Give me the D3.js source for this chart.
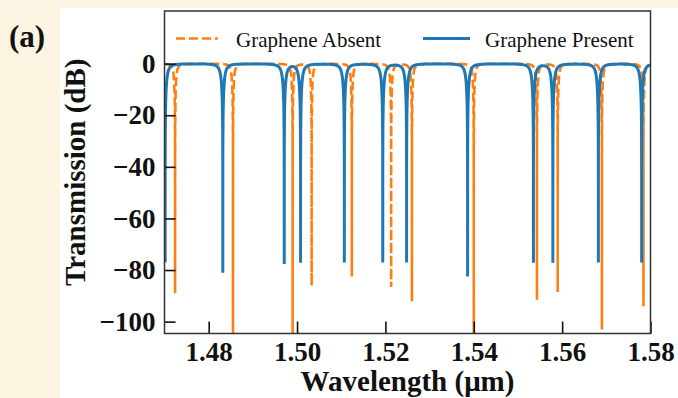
<!DOCTYPE html>
<html>
<head>
<meta charset="utf-8">
<script src="https://cdn.jsdelivr.net/npm/d3@7"></script>
<style>
  body { margin: 0; background: #fff; }
  svg { display: block; }
</style>
</head>
<body>
<div id="chart"></div>
<script>
// tick labels
const wavelengthTicks = [1.48, 1.50, 1.52, 1.54, 1.56, 1.58];
const transmissionTicks = [0, -20, -40, -60, -80, -100];

// resonance dips (centre in um, depth in dB)
const absentCenters = [1.4724, 1.4855, 1.4990, 1.5033, 1.5124, 1.5213, 1.5260, 1.5400, 1.5543, 1.5590, 1.5690, 1.5784];
const absentDepths  = [-89, -125, -125, -86, -82.5, -86.5, -92, -125, -91.5, -88.5, -103, -94];
const presentCenters = [1.47015, 1.4832, 1.4971, 1.5008, 1.5107, 1.5194, 1.5248, 1.5386, 1.5535, 1.5579, 1.5682, 1.5780];
const presentDepths  = [-77, -81, -77.5, -77, -77, -77, -77, -82.5, -77, -77, -77, -77];
// half widths of the dips (um)
const absentWidth = 0.00045;
const presentWidth = 0.00068;

const W = 678, H = 398;
const plot = { left: 164.5, right: 650.5, top: 11, bottom: 333.5 };

const svg = d3.select("#chart").append("svg")
  .attr("width", W)
  .attr("height", H);

// page background: cream strip on the left and top
svg.append("rect").attr("width", W).attr("height", H).attr("fill", "#ffffff");
svg.append("rect").attr("width", 60).attr("height", H).attr("fill", "#fbf4e1");
svg.append("rect").attr("width", W).attr("height", 8).attr("fill", "#fcf5e3");

const x = d3.scaleLinear().domain([1.47, 1.58]).range([plot.left, plot.right]);
const y = d3.scaleLinear().domain([-104.6, 20.4]).range([plot.bottom, plot.top]);

// transmission spectrum built from the resonance list
const spectrum = (centers, depths, gamma) => {
  const pts = [];
  const step = 0.000004;
  const xs = d3.range(1.47, 1.58 + step / 2, step).concat(centers).sort(d3.ascending);
  xs.forEach(l => {
    let t = 1;
    centers.forEach((c, i) => {
      const a = 1 - Math.pow(10, depths[i] / 10);
      t *= 1 - a * gamma * gamma / ((l - c) * (l - c) + gamma * gamma);
    });
    pts.push([l, 10 * Math.log10(t)]);
  });
  return pts;
};

svg.append("clipPath").attr("id", "clip")
  .append("rect")
  .attr("x", plot.left).attr("y", plot.top)
  .attr("width", plot.right - plot.left)
  .attr("height", plot.bottom - plot.top);

const line = d3.line().x(d => x(d[0])).y(d => y(d[1]));

const g = svg.append("g").attr("clip-path", "url(#clip)");

g.append("path")
  .datum(spectrum(absentCenters, absentDepths, absentWidth))
  .attr("d", line)
  .attr("fill", "none")
  .attr("stroke", "#ff7f0e")
  .attr("stroke-width", 2.6)
  .attr("stroke-dasharray", "9,4");

g.append("path")
  .datum(spectrum(presentCenters, presentDepths, presentWidth))
  .attr("d", line)
  .attr("fill", "none")
  .attr("stroke", "#1f77b4")
  .attr("stroke-width", 3);

// axes with inward ticks
const xAxis = svg.append("g")
  .attr("transform", `translate(0,${plot.bottom})`)
  .call(d3.axisBottom(x).tickValues(wavelengthTicks).tickFormat(d3.format(".2f"))
    .tickSizeInner(-12).tickSizeOuter(0).tickPadding(20));

const yAxis = svg.append("g")
  .attr("transform", `translate(${plot.left},0)`)
  .call(d3.axisLeft(y).tickValues(transmissionTicks).tickFormat(d => d < 0 ? "\u2212" + Math.abs(d) : d)
    .tickSizeInner(-11).tickSizeOuter(0).tickPadding(20));

[xAxis, yAxis].forEach(a => {
  a.select(".domain").remove();
  a.selectAll(".tick line").attr("stroke", "#111").attr("stroke-width", 1.6);
  a.selectAll(".tick text")
    .attr("fill", "#111")
    .style("font-family", "'Liberation Serif', 'Times New Roman', serif")
    .style("font-weight", "bold")
    .style("font-size", "27px");
});
xAxis.selectAll(".tick text").attr("dy", "0.71em").attr("y", 8);
yAxis.selectAll(".tick text").attr("x", -9);

svg.append("rect")
  .attr("x", plot.left).attr("y", plot.top)
  .attr("width", plot.right - plot.left)
  .attr("height", plot.bottom - plot.top)
  .attr("fill", "none")
  .attr("stroke", "#333")
  .attr("stroke-width", 1.5);

const serif = "'Liberation Serif', 'Times New Roman', serif";

svg.append("text")
  .attr("x", (plot.left + plot.right) / 2)
  .attr("y", 391)
  .attr("text-anchor", "middle")
  .style("font-family", serif).style("font-weight", "bold").style("font-size", "29px")
  .attr("fill", "#111")
  .text("Wavelength (\u03bcm)");

svg.append("text")
  .attr("transform", `translate(85,${(plot.top + plot.bottom) / 2}) rotate(-90)`)
  .attr("text-anchor", "middle")
  .style("font-family", serif).style("font-weight", "bold").style("font-size", "29px")
  .attr("fill", "#111")
  .text("Transmission (dB)");

svg.append("text")
  .attr("x", 9).attr("y", 47)
  .style("font-family", serif).style("font-weight", "bold").style("font-size", "31px")
  .attr("fill", "#111")
  .text("(a)");

// legend
const legend = [
  { label: "Graphene Absent", color: "#ff7f0e", dash: "9,4", width: 2.6, x1: 176, x2: 218, tx: 236 },
  { label: "Graphene Present", color: "#1f77b4", dash: null, width: 3, x1: 423, x2: 470, tx: 485 }
];
legend.forEach(l => {
  svg.append("line")
    .attr("x1", l.x1).attr("x2", l.x2).attr("y1", 38.5).attr("y2", 38.5)
    .attr("stroke", l.color).attr("stroke-width", l.width)
    .attr("stroke-dasharray", l.dash);
  svg.append("text")
    .attr("x", l.tx).attr("y", 46.5)
    .style("font-family", serif).style("font-size", "21px")
    .attr("fill", "#111")
    .text(l.label);
});
</script>
</body>
</html>
